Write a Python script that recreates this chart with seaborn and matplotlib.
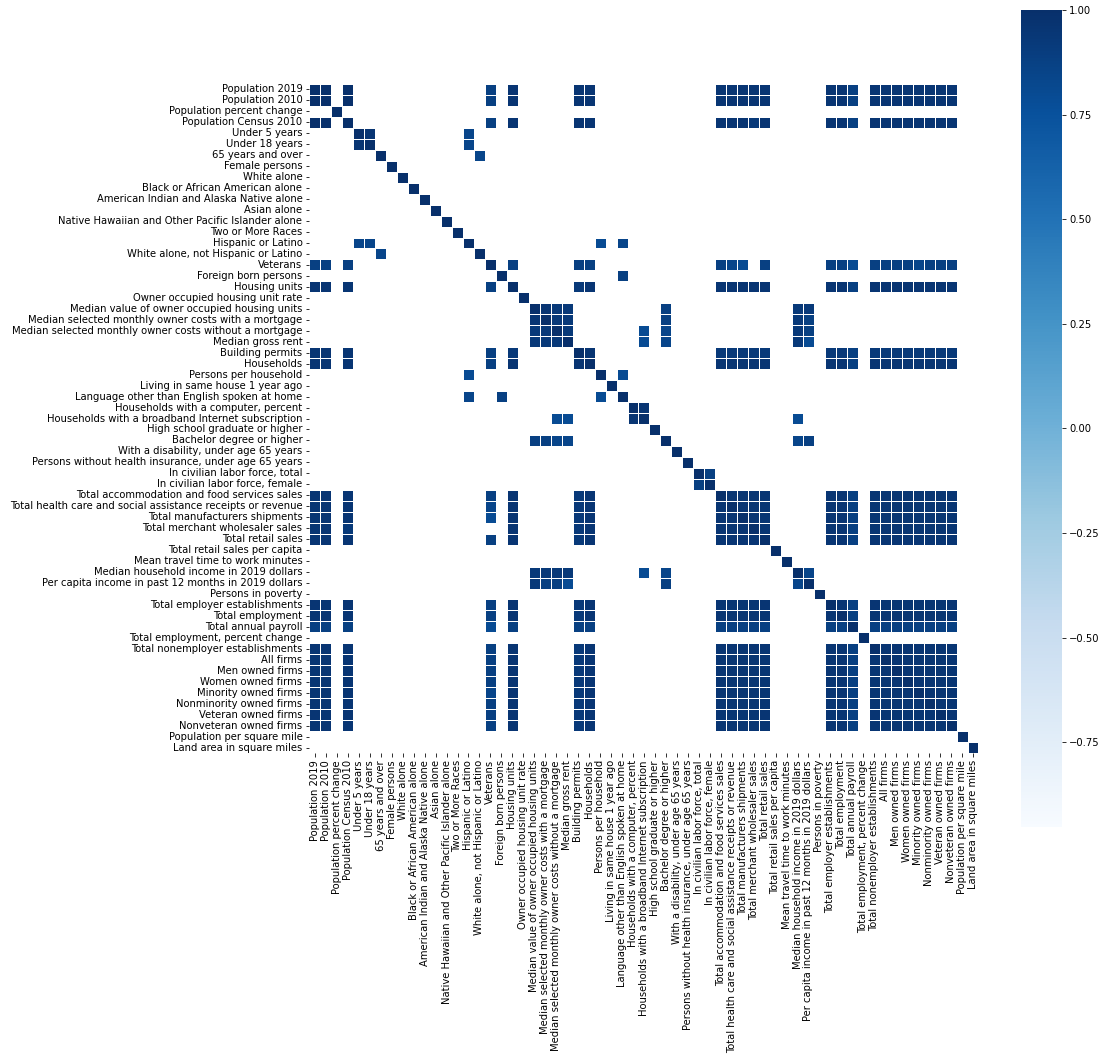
import numpy as np
import pandas as pd
import matplotlib
matplotlib.use("Agg")
import matplotlib.pyplot as plt
import seaborn as sns

labels = [
    "Population 2019", "Population 2010", "Population percent change",
    "Population Census 2010", "Under 5 years", "Under 18 years",
    "65 years and over", "Female persons", "White alone",
    "Black or African American alone", "American Indian and Alaska Native alone",
    "Asian alone", "Native Hawaiian and Other Pacific Islander alone",
    "Two or More Races", "Hispanic or Latino", "White alone, not Hispanic or Latino",
    "Veterans", "Foreign born persons", "Housing units",
    "Owner occupied housing unit rate", "Median value of owner occupied housing units",
    "Median selected monthly owner costs with a mortgage",
    "Median selected monthly owner costs without a mortgage", "Median gross rent",
    "Building permits", "Households", "Persons per household",
    "Living in same house 1 year ago", "Language other than English spoken at home",
    "Households with a computer, percent",
    "Households with a broadband Internet subscription",
    "High school graduate or higher", "Bachelor degree or higher",
    "With a disability, under age 65 years",
    "Persons without health insurance, under age 65 years",
    "In civilian labor force, total", "In civilian labor force, female",
    "Total accommodation and food services sales",
    "Total health care and social assistance receipts or revenue",
    "Total manufacturers shipments", "Total merchant wholesaler sales",
    "Total retail sales", "Total retail sales per capita",
    "Mean travel time to work minutes", "Median household income in 2019 dollars",
    "Per capita income in past 12 months in 2019 dollars", "Persons in poverty",
    "Total employer establishments", "Total employment", "Total annual payroll",
    "Total employment, percent change", "Total nonemployer establishments",
    "All firms", "Men owned firms", "Women owned firms", "Minority owned firms",
    "Nonminority owned firms", "Veteran owned firms", "Nonveteran owned firms",
    "Population per square mile", "Land area in square miles",
]

# only the strong correlations are shown, '.' = hidden cell
# digits are strength levels, see level_values
corr_rows = [
    "99.9...... ......6.8. ....88.... .......888 88.....886 .88888888. .",
    "99.9...... ......6.8. ....88.... .......888 88.....886 .88888888. .",
    "..9....... .......... .......... .......... .......... .......... .",
    "99.9...... ......6.8. ....88.... .......888 78.....886 .88888888. .",
    "....98.... ....5..... .......... .......... .......... .......... .",
    "....89.... ....5..... .......... .......... .......... .......... .",
    "......9... .....5.... .......... .......... .......... .......... .",
    ".......9.. .......... .......... .......... .......... .......... .",
    "........9. .......... .......... .......... .......... .......... .",
    ".........9 .......... .......... .......... .......... .......... .",
    ".......... 9......... .......... .......... .......... .......... .",
    ".......... .9........ .......... .......... .......... .......... .",
    ".......... ..9....... .......... .......... .......... .......... .",
    ".......... ...9...... .......... .......... .......... .......... .",
    "....55.... ....9..... ......4.5. .......... .......... .......... .",
    "......5... .....9.... .......... .......... .......... .......... .",
    "66.6...... ......9.6. ....66.... .......654 .6.....664 .66665666. .",
    ".......... .......9.. ........6. .......... .......... .......... .",
    "88.8...... ......6.9. ....78.... .......888 88.....886 .88888888. .",
    ".......... .........9 .......... .......... .......... .......... .",
    ".......... .......... 9877...... ..6....... ....77.... .......... .",
    ".......... .......... 8977...... ..6....... ....76.... .......... .",
    ".......... .......... 7797...... 4.5....... ....76.... .......... .",
    ".......... .......... 7779...... 4.5....... ....74.... .......... .",
    "88.8...... ......6.7. ....98.... .......777 77.....776 .77777777. .",
    "88.8...... ......6.8. ....89.... .......888 88.....886 .88888888. .",
    ".......... ....4..... ......9.4. .......... .......... .......... .",
    ".......... .......... .......9.. .......... .......... .......... .",
    ".......... ....5..6.. ......4.9. .......... .......... .......... .",
    ".......... .......... .........9 8......... .......... .......... .",
    ".......... .......... ..44.....8 9......... ....4..... .......... .",
    ".......... .......... .......... .9........ .......... .......... .",
    ".......... .......... 6655...... ..9....... ....56.... .......... .",
    ".......... .......... .......... ...9...... .......... .......... .",
    ".......... .......... .......... ....9..... .......... .......... .",
    ".......... .......... .......... .....96... .......... .......... .",
    ".......... .......... .......... .....69... .......... .......... .",
    "88.8...... ......6.8. ....78.... .......988 88.....886 .88888888. .",
    "88.8...... ......5.8. ....78.... .......898 88.....886 .88888888. .",
    "88.8...... ......4.8. ....78.... .......889 88.....886 .88888888. .",
    "88.7...... ........8. ....78.... .......888 98.....886 .88888888. .",
    "88.8...... ......6.8. ....78.... .......888 89.....886 .88888888. .",
    ".......... .......... .......... .......... ..9....... .......... .",
    ".......... .......... .......... .......... ...9...... .......... .",
    ".......... .......... 7777...... 4.5....... ....95.... .......... .",
    ".......... .......... 7664...... ..6....... ....59.... .......... .",
    ".......... .......... .......... .......... ......9... .......... .",
    "88.8...... ......6.8. ....78.... .......888 88.....986 .88888888. .",
    "88.8...... ......6.8. ....78.... .......888 88.....896 .88888888. .",
    "66.6...... ......4.6. ....66.... .......666 66.....669 .66666666. .",
    ".......... .......... .......... .......... .......... 9......... .",
    "88.8...... ......6.8. ....78.... .......888 88.....886 .98888888. .",
    "88.8...... ......6.8. ....78.... .......888 88.....886 .89888888. .",
    "88.8...... ......6.8. ....78.... .......888 88.....886 .88988888. .",
    "88.8...... ......6.8. ....78.... .......888 88.....886 .88898888. .",
    "88.8...... ......5.8. ....78.... .......888 88.....886 .88889888. .",
    "88.8...... ......6.8. ....78.... .......888 88.....886 .88888988. .",
    "88.8...... ......6.8. ....78.... .......888 88.....886 .88888898. .",
    "88.8...... ......6.8. ....78.... .......888 88.....886 .88888889. .",
    ".......... .......... .......... .......... .......... .........9 .",
    ".......... .......... .......... .......... .......... .......... 9",
]
level_values = {"9": 1.0, "8": 0.96, "7": 0.93, "6": 0.88, "5": 0.84, "4": 0.80}

# colour scale limits
v_min, v_max = -0.953, 1.0

grid = np.array([[level_values.get(c, np.nan) for c in "".join(r.split())]
                 for r in corr_rows])
grid = np.fmax(grid, grid.T)  # keep it symmetric
corr = pd.DataFrame(grid, index=labels, columns=labels)

fig = plt.figure(figsize=(1106 / 72, 1063 / 72), dpi=72)
ax = fig.add_axes([0.2789, 0.2916, 0.6067, 0.6294])
cax = fig.add_axes([0.9231, 0.222, 0.0371, 0.7686])

sns.heatmap(
    corr,
    mask=corr.isna(),
    cmap="Blues",
    vmin=v_min,
    vmax=v_max,
    square=True,
    linewidths=1,
    linecolor="white",
    xticklabels=True,
    yticklabels=True,
    ax=ax,
    cbar_ax=cax,
)
ax.tick_params(axis="x", labelrotation=90)
ax.tick_params(axis="y", labelrotation=0)

fig.savefig("out.png", dpi=72)
